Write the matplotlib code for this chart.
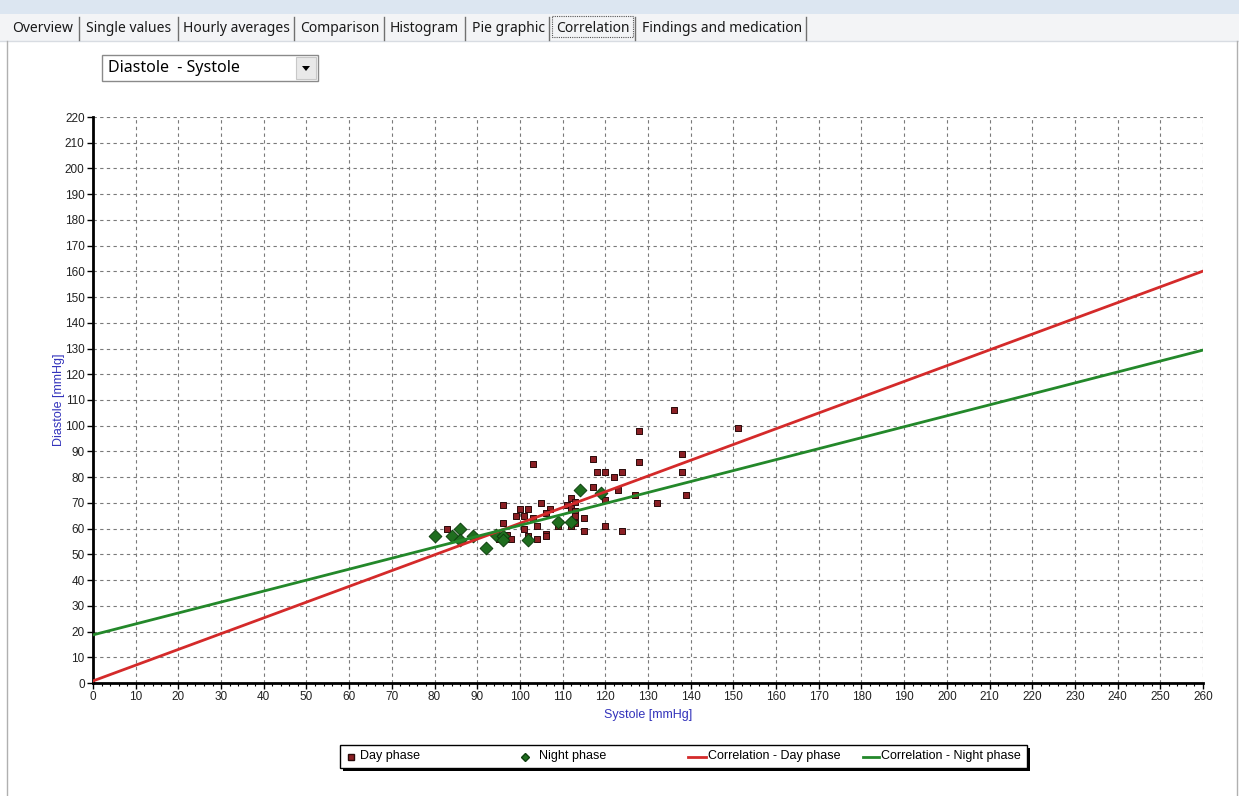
import matplotlib
matplotlib.use("Agg")
import matplotlib.pyplot as plt
from matplotlib.patches import Rectangle, Polygon
from matplotlib.ticker import MultipleLocator

# ---------------- data ----------------
day_sys = [136, 128, 117, 128, 138, 103, 118, 120, 124, 138, 122, 117, 123, 139, 127,
           132, 120, 112, 113, 111, 112, 113, 113, 113, 112, 109, 115, 115, 120, 124,
           105, 107, 106, 103, 100, 102, 99, 101, 96, 96, 101, 104, 106, 106, 104,
           102, 97, 98, 95, 83, 151]
day_dia = [106, 98, 87, 86, 89, 85, 82, 82, 82, 82, 80, 76, 75, 73, 73,
           70, 71, 72, 70.5, 69, 68, 67, 65, 62, 61, 61, 64, 59, 61, 59,
           70, 67.5, 66, 64, 67.5, 67.5, 65, 65, 69, 62, 60, 61, 58, 57, 56,
           57, 57.5, 56, 56, 60, 99]
night_sys = [80, 84, 86, 86, 89, 92, 94.5, 96, 96, 102, 109, 112, 114, 119]
night_dia = [57, 57, 60, 55.5, 57, 52.5, 57.5, 57, 55.5, 55.5, 62.5, 62.5, 75, 74]

line_x = [0, 260]
day_line_y = [0.8, 160.1]
night_line_y = [18.7, 129.4]

tabs = ["Overview", "Single values", "Hourly averages", "Comparison", "Histogram",
        "Pie graphic", "Correlation", "Findings and medication"]
dropdown_text = "Diastole  - Systole"
x_label = "Systole [mmHg]"
y_label = "Diastole [mmHg]"
legend_labels = ["Day phase", "Night phase", "Correlation - Day phase",
                 "Correlation - Night phase"]

DAY_FC, DAY_EC = "#8b1f24", "#2a0a0a"
NIGHT_FC, NIGHT_EC = "#1f6e1f", "#0e3f0e"
DAY_LINE, NIGHT_LINE = "#d42a2a", "#23882a"

# ---------------- figure ----------------
W, H = 1239, 796
fig = plt.figure(figsize=(W / 100, H / 100), dpi=100)
fig.patch.set_facecolor("white")

# background "window chrome" axes in pixel coordinates
bg = fig.add_axes([0, 0, 1, 1], zorder=0)
bg.set_xlim(0, W)
bg.set_ylim(H, 0)
bg.axis("off")

bg.add_patch(Rectangle((0, 0), W, 14, facecolor="#dce6f1", edgecolor="none"))
bg.add_patch(Rectangle((0, 14), W, 27, facecolor="#f3f4f6", edgecolor="none"))
bg.plot([0, W], [41, 41], color="#d8dce2", lw=1)
bg.plot([7, 7], [41, H], color="#b0b0b0", lw=1)
bg.plot([1237, 1237], [41, H], color="#b0b0b0", lw=1)

tab_font = dict(family=["Noto Sans", "DejaVu Sans"], fontsize=10, color="#1a1a1a")
tab_x = [12, 86, 183, 300, 390, 472, 556, 642]
sep_x = [79, 178, 294, 384, 465, 549, 635, 806]
for t, tx in zip(tabs, tab_x):
    bg.text(tx, 28, t, va="center", ha="left", **tab_font)
for sx in sep_x:
    bg.plot([sx, sx], [17, 40], color="#707070", lw=1)
bg.add_patch(Rectangle((552, 16), 81, 21, facecolor="none", edgecolor="#555555",
                       lw=0.8, linestyle=(0, (1, 1))))

# dropdown
bg.add_patch(Rectangle((102, 55), 216, 26, facecolor="white", edgecolor="#8a8a8a", lw=1))
bg.add_patch(Rectangle((296, 57), 20, 22, facecolor="#e9e9e9", edgecolor="#c8c8c8", lw=0.8))
bg.add_patch(Polygon([(302, 66), (310, 66), (306, 71)], closed=True, facecolor="black",
                     edgecolor="none"))
bg.text(108, 68.5, dropdown_text, va="center", ha="left",
        family=["Noto Sans", "DejaVu Sans"], fontsize=11.5, color="black")

# ---------------- main chart ----------------
ax = fig.add_axes([93 / W, 1 - 683 / H, (1203 - 93) / W, (683 - 117) / H], zorder=1)
ax.set_facecolor("white")

ax.scatter(day_sys, day_dia, marker="s", s=22, facecolor=DAY_FC, edgecolor=DAY_EC,
           linewidth=0.7, zorder=3)
ax.scatter(night_sys, night_dia, marker="D", s=42, facecolor=NIGHT_FC, edgecolor=NIGHT_EC,
           linewidth=0.7, zorder=3)
ax.plot(line_x, day_line_y, color=DAY_LINE, lw=2, zorder=4)
ax.plot(line_x, night_line_y, color=NIGHT_LINE, lw=2, zorder=4)

ax.set_xlim(0, 260)
ax.set_ylim(0, 220)
ax.xaxis.set_major_locator(MultipleLocator(10))
ax.yaxis.set_major_locator(MultipleLocator(10))
ax.xaxis.set_minor_locator(MultipleLocator(2))
ax.grid(True, which="major", color="#7a7a7a", linestyle=(0, (3, 3)), lw=0.8, zorder=1)
ax.set_axisbelow(True)

for s in ["top", "right"]:
    ax.spines[s].set_visible(False)
for s in ["left", "bottom"]:
    ax.spines[s].set_linewidth(2)
    ax.spines[s].set_color("black")

tick_font = ["Liberation Sans", "DejaVu Sans"]
ax.tick_params(axis="both", which="major", direction="out", length=4, width=1,
               labelsize=8.5, colors="black", pad=2)
ax.tick_params(axis="x", which="minor", direction="out", length=2, width=0.8)
for lab in ax.get_xticklabels() + ax.get_yticklabels():
    lab.set_family(tick_font)
    lab.set_color("#222222")

ax.set_xlabel(x_label, fontsize=9, color="#3333bb", family=tick_font, labelpad=4)
ax.set_ylabel(y_label, fontsize=9, color="#3333bb", family=tick_font, labelpad=0)

# ---------------- legend (drawn as a boxed key below the chart) ----------------
lx0, ly0, lx1, ly1 = 340, 745, 1027, 768
bg.add_patch(Rectangle((lx0 + 3, ly0 + 3), lx1 - lx0, ly1 - ly0, facecolor="black",
                       edgecolor="none", zorder=2))
bg.add_patch(Rectangle((lx0, ly0), lx1 - lx0, ly1 - ly0, facecolor="white",
                       edgecolor="black", lw=1, zorder=3))
ly = (ly0 + ly1) / 2
leg_font = dict(family=tick_font, fontsize=9, color="black", va="center", ha="left",
                zorder=5)
bg.plot([351], [ly], marker="s", ms=4, mfc=DAY_FC, mec=DAY_EC, ls="none", zorder=4)
bg.text(360, ly, legend_labels[0], **leg_font)
bg.plot([525], [ly], marker="D", ms=4.5, mfc=NIGHT_FC, mec=NIGHT_EC, ls="none", zorder=4)
bg.text(539, ly, legend_labels[1], **leg_font)
bg.plot([688, 706], [ly, ly], color=DAY_LINE, lw=2, zorder=4)
bg.text(708, ly, legend_labels[2], **leg_font)
bg.plot([863, 879], [ly, ly], color=NIGHT_LINE, lw=2, zorder=4)
bg.text(881, ly, legend_labels[3], **leg_font)

fig.savefig("out.png", dpi=100)
